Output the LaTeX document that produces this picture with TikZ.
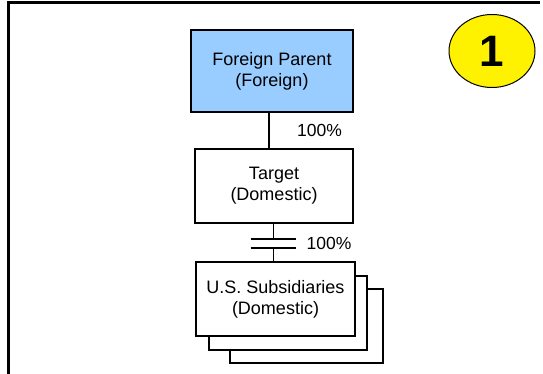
\documentclass[tikz,border=0pt]{standalone}
\usepackage{fontspec}
\setmainfont{Liberation Sans}
\usetikzlibrary{shapes.geometric}
\usetikzlibrary{positioning}
\definecolor{ParentBlue}{RGB}{153,204,255}
\tikzset{
  Kasten/.style={draw,line width=1.4pt,fill=white,minimum width=158pt,minimum height=74pt,
    inner sep=0pt,align=center,font={\fontsize{18}{21}\selectfont}}, % Gesellschaften
  Linie/.style={line width=1.1pt}, % Beteiligungen
  Anteil/.style={font={\fontsize{17.5}{20.5}\selectfont}} % Prozentangaben
}
\begin{document}
\begin{tikzpicture}[x=1pt,y=-1pt]
\useasboundingbox (0,0) rectangle (543,374);

%Rahmen
\draw[line width=3pt] (540,3) -- (8,3) -- (8,375);

%Gesellschaften
\node[Kasten, fill=ParentBlue, minimum width=162pt, minimum height=82pt] (Parent) at (272,71)
  {Foreign Parent\\(Foreign)};
\node[Kasten] (Target) at (274,186) {Target\\(Domestic)};
\node[Kasten, minimum width=153pt] (Sub3) at (306.5,326) {};
\node[Kasten] (Sub2) at (288,313) {};
\node[Kasten, minimum width=159pt] (Sub1) at (275.5,299) {U.S. Subsidiaries\\(Domestic)};

%Nummer
\node[draw, ellipse, line width=1pt, fill=yellow, minimum width=86pt, minimum height=73pt,
  font={\fontsize{44}{44}\selectfont\bfseries}] (Nr) at (492,51) {1};

%Leiterbahnen
\coordinate (CutA) at (273.5,239);
\coordinate (CutB) at (273.5,248);
\draw[Linie] ([xshift=-3pt]Parent.south) -- ([xshift=-3pt]Parent.south |- Target.north);
\draw[Linie] (Target.south -| CutA) -- (CutA);
\draw[Linie] (CutB) -- (CutB |- Sub1.north);
\draw[Linie] ([xshift=-23pt]CutA) -- ([xshift=22pt]CutA);
\draw[Linie] ([xshift=-23pt]CutB) -- ([xshift=22pt]CutB);

%Prozentangaben
\node[Anteil] (PctA) at (319.5,130) {100\%};
\node[Anteil] (PctB) at (329,243) {100\%};
\end{tikzpicture}
\end{document}
